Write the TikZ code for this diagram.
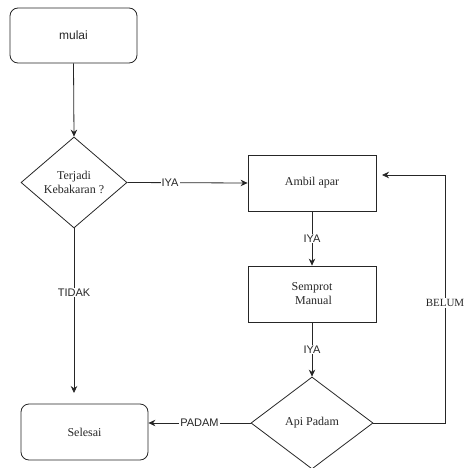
\documentclass[tikz,border=0pt]{standalone}
\usepackage{fontspec}
\setmainfont{Liberation Serif}
\setsansfont{Liberation Sans}
\usetikzlibrary{shapes.geometric,arrows.meta}
\begin{document}
\begin{tikzpicture}[x=1pt,y=-1pt,
  every node/.style={text=black!85},
  rbox/.style={draw=black!85,line width=0.8pt,rounded corners=8pt,font=\sffamily\fontsize{12}{14}\selectfont,align=center,inner sep=0pt},
  pbox/.style={draw=black!85,line width=0.8pt,font=\fontsize{12}{14}\selectfont,align=center,minimum width=128pt,minimum height=56pt,inner sep=0pt},
  dia/.style={draw=black!85,line width=0.8pt,diamond,font=\fontsize{12}{14}\selectfont,align=center,inner sep=0pt},
  arr/.style={draw=black!85,line width=0.8pt,-{Stealth[length=7pt,width=6.5pt]}},
  ln/.style={draw=black!85,line width=0.8pt},
  lbl/.style={fill=white,font=\sffamily\fontsize{11}{13}\selectfont,inner sep=1pt},
  lbls/.style={fill=white,font=\fontsize{11}{13}\selectfont,inner sep=1pt}]
\useasboundingbox (0,0) rectangle (463,468);
\node[rbox,minimum width=127pt,minimum height=55pt] (mulai) at (73.5,35.5) {mulai};
\node[dia,minimum width=106pt,minimum height=91pt] (d1) at (74,182.5) {Terjadi\\Kebakaran ?};
\node[pbox] (ambil) at (312,183) {Ambil apar};
\node[pbox] (semprot) at (312,294) {Semprot\\\ Manual};
\node[dia,minimum width=122pt,minimum height=92pt] (d2) at (312,423) {Api Padam};
\node[rbox,font=\fontsize{12}{14}\selectfont,minimum width=127pt,minimum height=56pt] (selesai) at (84.5,432) {Selesai};
\coordinate (tidakend) at (74,393);
\coordinate (bx) at (445,175);
\coordinate (bend) at (382,175);
\draw[arr] (mulai.south) -- (d1.north);
\draw[arr] (d1.east) -- node[lbl,pos=0.355]{IYA} (ambil.west);
\draw[arr] (ambil.south) -- node[lbl]{IYA} (semprot.north);
\draw[arr] (semprot.south) -- node[lbl]{IYA} (d2.north);
\draw[arr] (d1.south) -- node[lbl,pos=0.39]{TIDAK} (tidakend);
\draw[arr] (d2.west) -- node[lbl]{PADAM} (d2.west -| selesai.east);
\draw[arr] (d2.east) -| node[lbls,pos=0.742]{BELUM} (bx) -- (bend);
\end{tikzpicture}
\end{document}
